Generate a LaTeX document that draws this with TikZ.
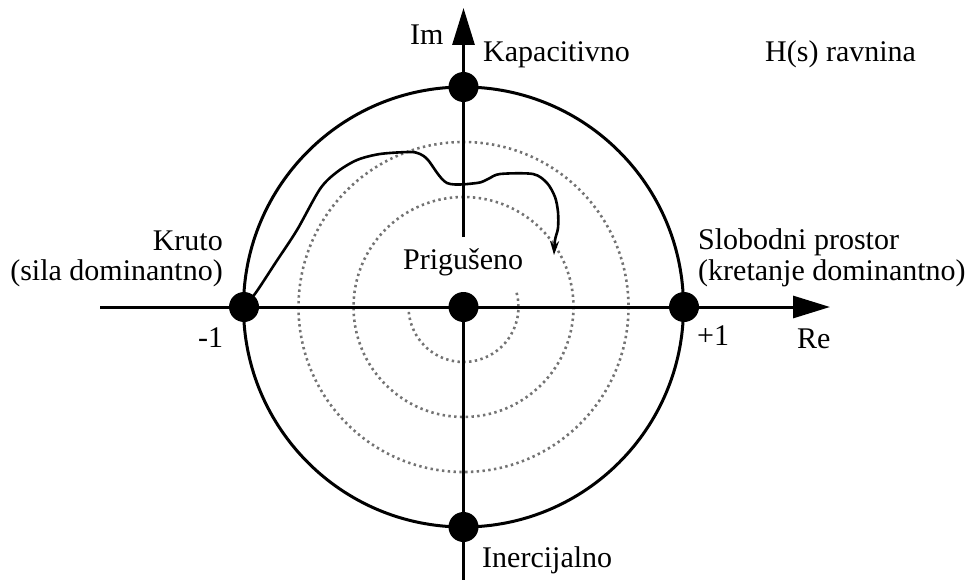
\documentclass[tikz,border=0pt]{standalone}
\usepackage{fontspec}
\setmainfont{Liberation Serif}
\usetikzlibrary{arrows.meta}
\begin{document}
\begin{tikzpicture}[x=1pt,y=-1pt,
  lbl/.style={inner sep=0pt,font=\fontsize{30}{34}\selectfont},
  axis/.style={line width=3pt,black},
  ring/.style={line width=3pt,black},
  spiral/.style={line width=2.6pt,black!55,dash pattern=on 2.4pt off 3.4pt},
  bigdot/.style={circle,fill=black,inner sep=0pt,minimum size=30pt},
  curve/.style={line width=2.6pt,black}]
\useasboundingbox (0,0) rectangle (971,580);
% dotted rings
\draw[spiral] (463.5,307) circle[radius=165];
\draw[spiral] (463.5,307) circle[radius=110];
\draw[spiral] ([shift={(-15:55)}]463.5,307) arc[start angle=-15,end angle=183,radius=55];
% main circle
\draw[ring] (463.5,307) circle[radius=220];
% axes
\coordinate (reL) at (100,307);
\coordinate (reR) at (830,307);
\coordinate (imT) at (463.5,8);
\coordinate (imE) at (463.5,237);
\coordinate (imB) at (463.5,580);
\draw[axis,-{Triangle[length=37pt,width=22pt]}] (reL) -- (reR);
\draw[axis,-{Triangle[length=37pt,width=22pt]}] (imE) -- (imT);
% dots
\node[bigdot] (top) at (463.5,87) {};
\node[bigdot] (neg) at (244,307) {};
\node[bigdot] (pos) at (684,307) {};
\node[bigdot] (bot) at (463.5,527) {};
\node[bigdot] (ctr) at (463.5,307) {};
\draw[axis] (ctr.center) -- (imB);
% response curve
\draw[curve,-{Stealth[length=14pt,width=9pt]}] plot[smooth,tension=0.5] coordinates {
 (246,305) (257,291) (276,262) (297,230) (320,189) (337,172) (357,160) (380,154) (410,152) (420,154) (428,160)
 (447,183) (477,183) (488,179) (500,174) (533,174) (547,183) (555,197) (558,212) (558,228) (555,240) (554,255)};
% labels
\node[lbl,anchor=base west] (im) at (410,45) {Im};
\node[lbl,anchor=base west] (kap) at (483,62) {Kapacitivno};
\node[lbl,anchor=base west] (hs) at (765,62) {H(s) ravnina};
\node[lbl,anchor=base east] (kr1) at (223,250) {Kruto};
\node[lbl,anchor=base east] (kr2) at (223,280) {(sila dominantno)};
\node[lbl,anchor=base west] (sl1) at (698,249) {Slobodni prostor};
\node[lbl,anchor=base west] (sl2) at (698,280) {(kretanje dominantno)};
\node[lbl,anchor=base west] (pr) at (403,269) {Prigušeno};
\node[lbl,anchor=base west] (m1) at (198,347) {-1};
\node[lbl,anchor=base west] (p1) at (697,345) {+1};
\node[lbl,anchor=base west] (re) at (797,348) {Re};
\node[lbl,anchor=base west] (in) at (482,567) {Inercijalno};
\end{tikzpicture}
\end{document}
